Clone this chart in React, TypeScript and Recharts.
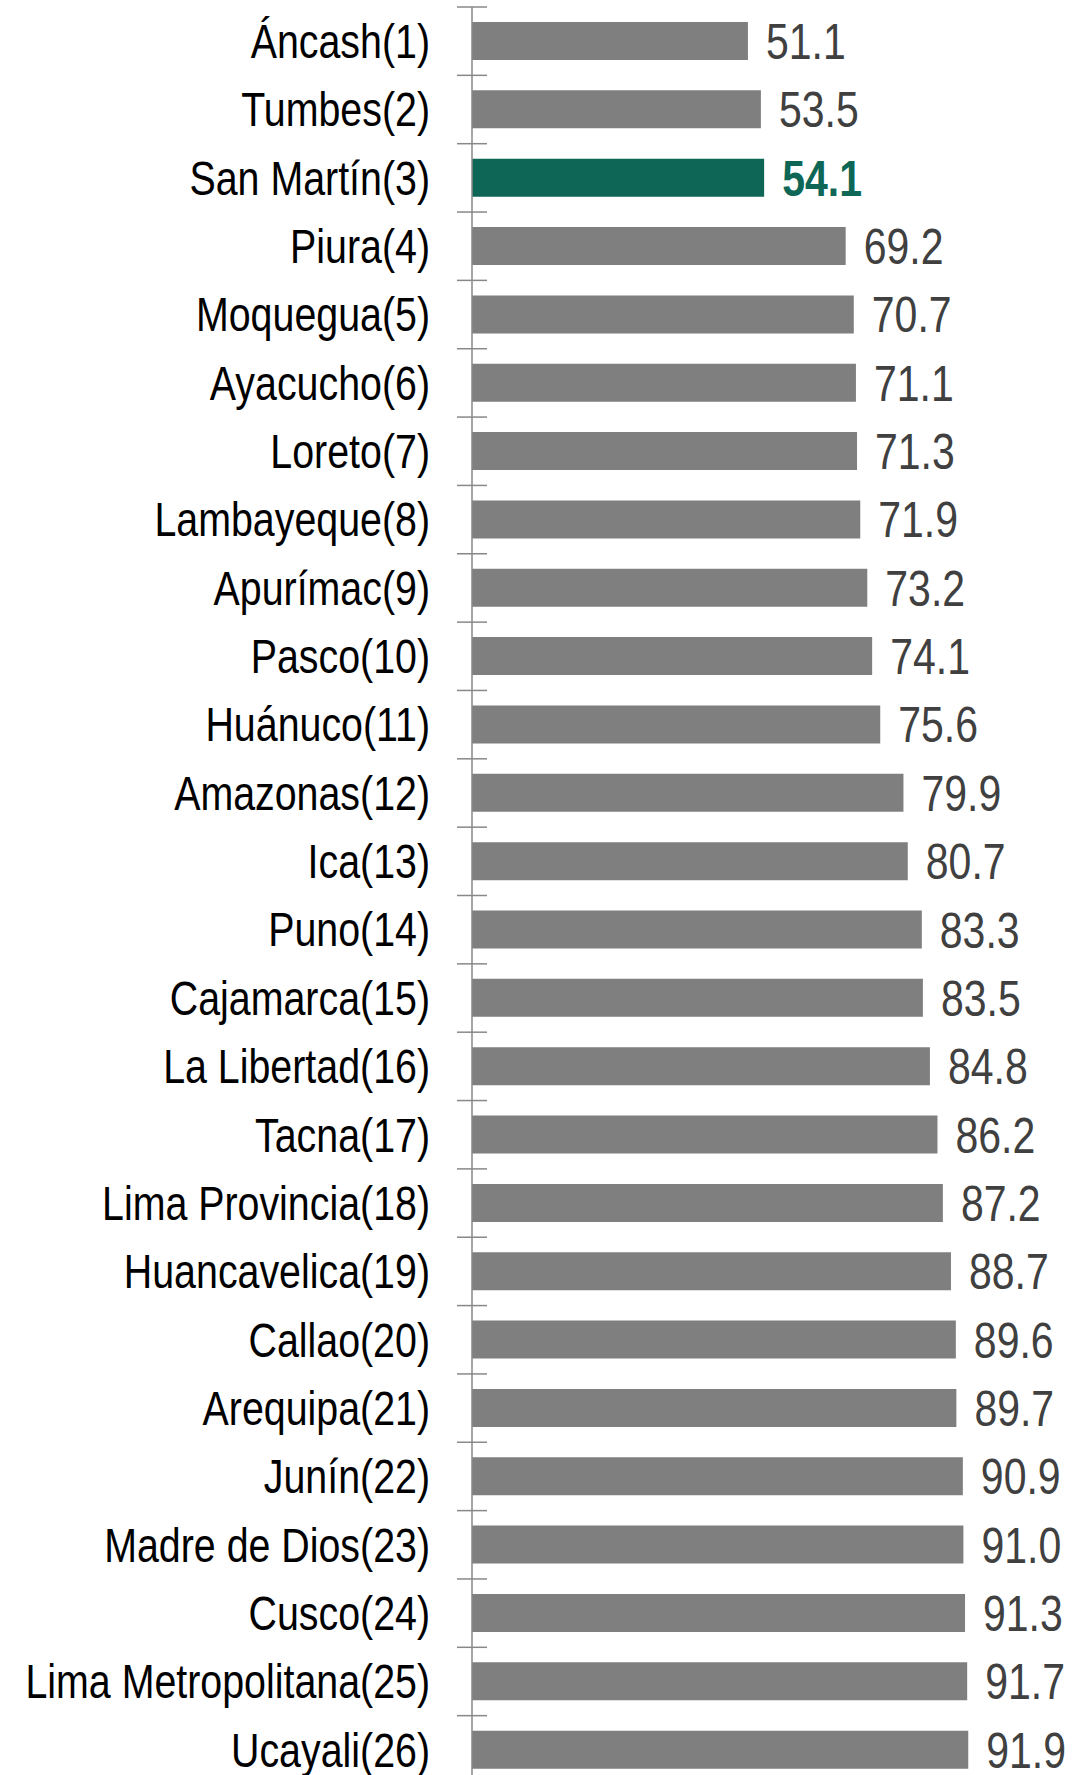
import React from "react";
import { BarChart, Bar, XAxis, YAxis, Cell, LabelList } from "recharts";

const regions = [
  "Áncash(1)", "Tumbes(2)", "San Martín(3)", "Piura(4)", "Moquegua(5)", "Ayacucho(6)",
  "Loreto(7)", "Lambayeque(8)", "Apurímac(9)", "Pasco(10)", "Huánuco(11)", "Amazonas(12)",
  "Ica(13)", "Puno(14)", "Cajamarca(15)", "La Libertad(16)", "Tacna(17)", "Lima Provincia(18)",
  "Huancavelica(19)", "Callao(20)", "Arequipa(21)", "Junín(22)", "Madre de Dios(23)",
  "Cusco(24)", "Lima Metropolitana(25)", "Ucayali(26)",
];
const values = [
  51.1, 53.5, 54.1, 69.2, 70.7, 71.1, 71.3, 71.9, 73.2, 74.1, 75.6, 79.9, 80.7,
  83.3, 83.5, 84.8, 86.2, 87.2, 88.7, 89.6, 89.7, 90.9, 91.0, 91.3, 91.7, 91.9,
];
const highlighted = "San Martín(3)";

// no narrow font installed, so Liberation Sans is squeezed horizontally
const FONT = "'Liberation Sans', Arial, sans-serif";
const NARROW = 0.82;
const GRAY = "#7f7f7f";
const GREEN = "#0e6756";
const AXIS = "#888888";

const data = regions.map((name, i) => ({ name, value: values[i] }));

const RegionTick = (props: any) => {
  const { x, y, payload, index } = props;
  const half = payload && payload.offset ? payload.offset : 34.2;
  return (
    <g>
      <line x1={x - 15} x2={x + 15} y1={y - half} y2={y - half} stroke={AXIS} strokeWidth={1.5} />
      {index === regions.length - 1 && (
        <line x1={x - 15} x2={x + 15} y1={y + half} y2={y + half} stroke={AXIS} strokeWidth={1.5} />
      )}
      <text
        transform={`translate(${x - 42},${y}) scale(${NARROW},1)`}
        dy="0.35em"
        textAnchor="end"
        fontFamily={FONT}
        fontSize={48}
        fill="#000"
      >
        {payload.value}
      </text>
    </g>
  );
};

const ValueLabel = (props: any) => {
  const { x, y, width, height, value, index } = props;
  const hl = regions[index] === highlighted;
  return (
    <text
      transform={`translate(${x + width + 18},${y + height / 2}) scale(${NARROW},1)`}
      dy="0.36em"
      fontFamily={FONT}
      fontSize={50}
      fontWeight={hl ? "bold" : "normal"}
      fill={hl ? GREEN : "#404040"}
    >
      {Number(value).toFixed(1)}
    </text>
  );
};

const App = () => {
  return (
    <div style={{ position: "absolute", top: 0, left: 0, width: 1078, height: 1775, overflow: "hidden", background: "#fff" }}>
      <BarChart
        layout="vertical"
        width={1078}
        height={1791}
        data={data}
        margin={{ top: 7, right: 66, bottom: 7, left: 0 }}
      >
        <XAxis type="number" domain={[0, 100]} hide />
        <YAxis
          type="category"
          dataKey="name"
          width={472}
          interval={0}
          tickLine={false}
          tickSize={0}
          tickMargin={0}
          axisLine={{ stroke: AXIS, strokeWidth: 1.5 }}
          tick={<RegionTick />}
        />
        <Bar dataKey="value" barSize={38} isAnimationActive={false}>
          {data.map((d, i) => (
            <Cell key={`c-${i}`} fill={d.name === highlighted ? GREEN : GRAY} />
          ))}
          <LabelList dataKey="value" content={<ValueLabel />} />
        </Bar>
      </BarChart>
    </div>
  );
};

export default App;
